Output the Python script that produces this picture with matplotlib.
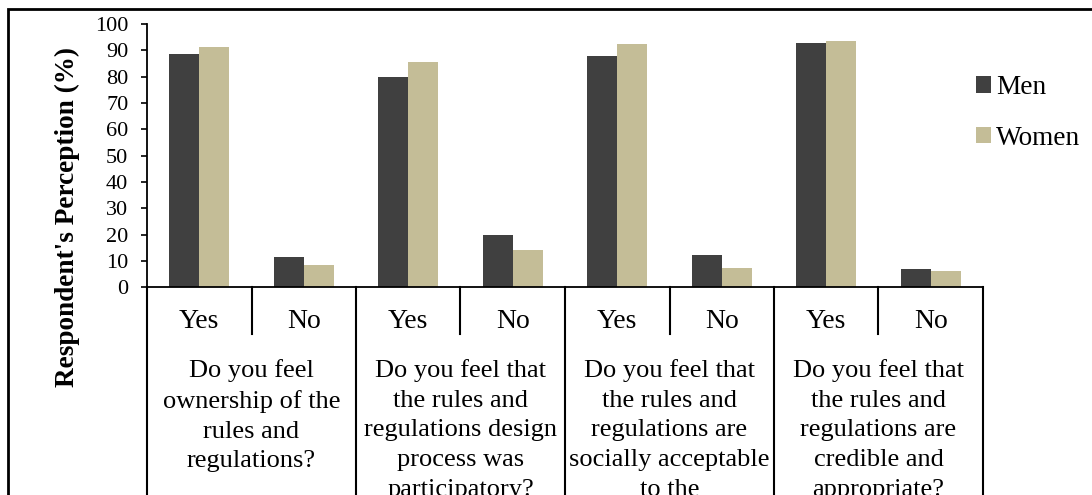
import matplotlib.pyplot as plt
import numpy as np
from matplotlib.patches import Rectangle

answers = ["Yes", "No", "Yes", "No", "Yes", "No", "Yes", "No"]
men = [88.5, 11.4, 80.0, 19.7, 87.7, 12.2, 92.8, 7.1]
women = [91.3, 8.6, 85.6, 14.3, 92.5, 7.3, 93.6, 6.3]
questions = [
    "Do you feel\nownership of the\nrules and\nregulations?",
    "Do you feel that\nthe rules and\nregulations design\nprocess was\nparticipatory?",
    "Do you feel that\nthe rules and\nregulations are\nsocially acceptable\nto the",
    "Do you feel that\nthe rules and\nregulations are\ncredible and\nappropriate?",
]

plt.rcParams["font.family"] = ["Liberation Serif", "DejaVu Serif"]

W, H = 1092, 495
fig = plt.figure(figsize=(W / 100, H / 100), dpi=100)
ax = fig.add_axes([147 / W, 1 - 287.3 / H, 836 / W, 263.3 / H])

x = np.arange(len(answers))
bw = 0.285
ax.bar(x - bw / 2, men, bw, color="#404040", label="Men")
ax.bar(x + bw / 2, women, bw, color="#C4BD97", label="Women")

ax.set_xlim(-0.5, len(answers) - 0.5)
ax.set_ylim(0, 100)
ax.set_yticks(range(0, 101, 10))
ax.tick_params(axis="y", labelsize=16, length=4.5, width=1.2, pad=9, direction="out")
ax.set_xticks([])
for s in ["top", "right"]:
    ax.spines[s].set_visible(False)
for s in ["left", "bottom"]:
    ax.spines[s].set_linewidth(1.3)

# category table under the axis
tr = ax.get_xaxis_transform()
for b in np.arange(-0.5, len(answers), 1.0):
    low = -0.177 if (b + 0.5) % 2 == 1 else -0.9
    ax.plot([b, b], [0, low], color="black", lw=1.5, transform=tr, clip_on=False)

for i, a in enumerate(answers):
    ax.text(i, -0.128, a, transform=tr, ha="center", va="center", fontsize=20)

for g, q in enumerate(questions):
    ax.text(2 * g + 0.5, -0.272, q, transform=tr, ha="center", va="top",
            fontsize=19, linespacing=1.45)

fig.text(67.5 / W, 1 - 217 / H, "Respondent's Perception (%)", rotation=90,
         ha="center", va="center", fontsize=19.6, fontweight="bold")

fig.legend(loc="upper left", bbox_to_anchor=(976 / W, 1 - 75 / H), frameon=False,
           fontsize=19.6, handlelength=0.55, handleheight=0.55, handletextpad=0.2,
           labelspacing=0.95, borderaxespad=0, borderpad=0)

top = 1 - 9 / H
fig.add_artist(Rectangle((8 / W, -0.2), 1.2, top + 0.2, transform=fig.transFigure,
                         fill=False, edgecolor="black", lw=2))

fig.savefig("out.png", dpi=100)
